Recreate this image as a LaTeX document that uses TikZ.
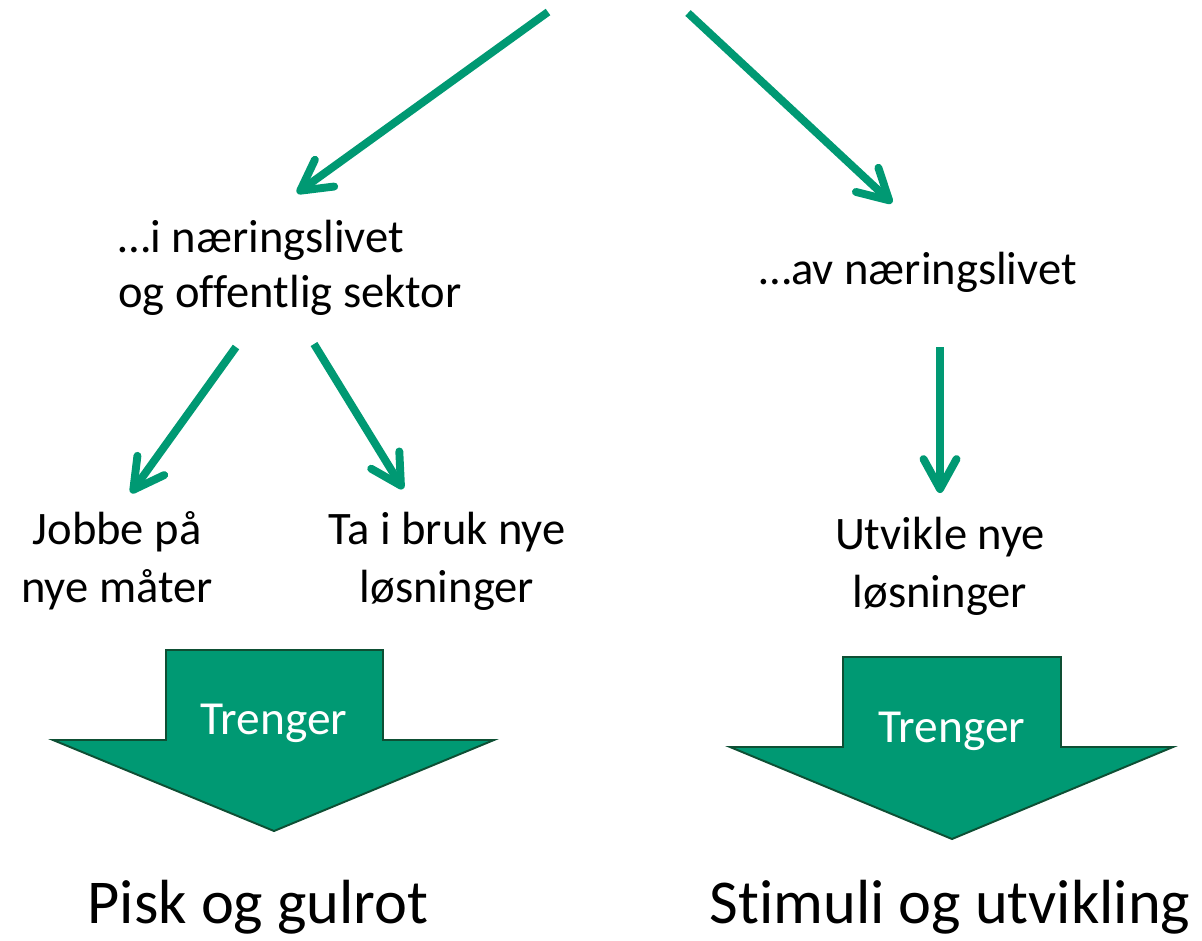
\documentclass[tikz,border=0pt]{standalone}
\usepackage{fontspec}
\setmainfont{Carlito}[Ligatures=NoCommon]
\usetikzlibrary{arrows.meta}
\definecolor{grn}{RGB}{0,153,115}
\definecolor{grnborder}{RGB}{14,79,52}
\tikzset{
  conn/.style={draw=grn, line width=4.5pt, line cap=butt,
    -{Straight Barb[length=0.6cm, width=0.66cm, line cap=round, line join=round]}},
  toptext/.style={font=\fontsize{26.5}{31.3}\selectfont, inner sep=0pt, text=black},
  midtext/.style={font=\fontsize{26.5}{33}\selectfont, inner sep=0pt, align=center, text=black},
  bottext/.style={font=\fontsize{35.5}{40}\selectfont, inner sep=0pt, text=black},
  blockarrow/.style={fill=grn, draw=grnborder, line width=1.1pt, line join=miter},
  blocklabel/.style={font=\fontsize{27}{30}\selectfont, text=white, inner sep=0pt, anchor=base},
}
\begin{document}
\begin{tikzpicture}[x=0.02cm, y=-0.02cm]
\useasboundingbox (0,0) rectangle (1202,940);

% text nodes
\node[toptext, align=left] (t1) at (290,268) {…i næringslivet\\og offentlig sektor};
\node[toptext] (t2) at (918,272) {…av næringslivet};
\node[midtext] (m1) at (117,561) {Jobbe på\\nye måter};
\node[midtext] (m2) at (447,561) {Ta i bruk nye\\løsninger};
\node[midtext] (m3) at (940,566) {Utvikle nye\\løsninger};
\node[bottext] (b1) at (258,907) {Pisk og gulrot};
\node[bottext] (b2) at (950,907) {Stimuli og utvikling};

% connector end points
\coordinate (s1) at (548,12);   \coordinate (e1) at (297,193);
\coordinate (s2) at (688,13);   \coordinate (e2) at (892,203);
\coordinate (s3) at (236,347);  \coordinate (e3) at (131,493);
\coordinate (s4) at (314,344);  \coordinate (e4) at (403,489);
\coordinate (s5) at (940,347);  \coordinate (e5) at (940,493);

\draw[conn] (s1) -- (e1);
\draw[conn] (s2) -- (e2);
\draw[conn] (s3) -- (e3);
\draw[conn] (s4) -- (e4);
\draw[conn] (s5) -- (e5);

% block arrows
\draw[blockarrow] (166,650) -- (383,650) -- (383,740) -- (494,740) -- (274,831)
  -- (53,740) -- (166,740) -- cycle;
\node[blocklabel] (tr1) at (274,734) {Trenger};
\draw[blockarrow] (843,657) -- (1061,657) -- (1061,747) -- (1173,747) -- (952,839)
  -- (730,747) -- (843,747) -- cycle;
\node[blocklabel] (tr2) at (952,742) {Trenger};
\end{tikzpicture}
\end{document}
